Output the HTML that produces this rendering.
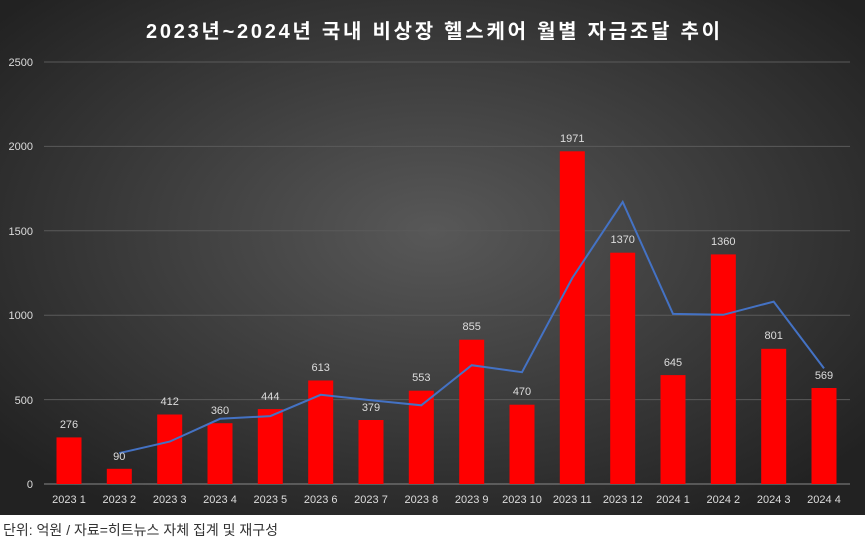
<!DOCTYPE html>
<html><head><meta charset="utf-8"><style>
html,body{margin:0;padding:0;width:865px;height:541px;background:#fff;overflow:hidden}
svg{display:block}
</style></head><body>
<svg width="865" height="541" xmlns="http://www.w3.org/2000/svg" font-family="'Liberation Sans','Noto Sans CJK KR',sans-serif">
<defs>
<radialGradient id="bg" cx="0.5" cy="0.45" r="0.65">
<stop offset="0" stop-color="#585858"/>
<stop offset="1" stop-color="#222"/>
</radialGradient>
</defs>
<rect x="0" y="0" width="865" height="515" fill="url(#bg)"/>
<text x="146" y="38" font-size="20" font-weight="bold" fill="#fff" textLength="574" lengthAdjust="spacing">2023년~2024년 국내 비상장 헬스케어 월별 자금조달 추이</text>
<g stroke="#5a5a5a" stroke-width="1">
<line x1="44" x2="850" y1="62" y2="62"/>
<line x1="44" x2="850" y1="146.4" y2="146.4"/>
<line x1="44" x2="850" y1="230.8" y2="230.8"/>
<line x1="44" x2="850" y1="315.2" y2="315.2"/>
<line x1="44" x2="850" y1="399.6" y2="399.6"/>
</g>
<line x1="44" x2="850" y1="484" y2="484" stroke="#888" stroke-width="1"/>
<g font-size="11" fill="#ddd" text-anchor="end">
<text x="33" y="66">2500</text><text x="33" y="150">2000</text><text x="33" y="235">1500</text>
<text x="33" y="319">1000</text><text x="33" y="404">500</text><text x="33" y="488">0</text>
</g>
<g fill="#ff0000">
<rect x="56.5" y="437.4" width="25" height="46.6"/>
<rect x="106.8" y="468.8" width="25" height="15.2"/>
<rect x="157.2" y="414.5" width="25" height="69.5"/>
<rect x="207.5" y="423.2" width="25" height="60.8"/>
<rect x="257.8" y="409.1" width="25" height="74.9"/>
<rect x="308.2" y="380.5" width="25" height="103.5"/>
<rect x="358.5" y="420" width="25" height="64"/>
<rect x="408.8" y="390.7" width="25" height="93.3"/>
<rect x="459.2" y="339.7" width="25" height="144.3"/>
<rect x="509.5" y="404.7" width="25" height="79.3"/>
<rect x="559.8" y="151.3" width="25" height="332.7"/>
<rect x="610.2" y="252.7" width="25" height="231.3"/>
<rect x="660.5" y="375.1" width="25" height="108.9"/>
<rect x="710.8" y="254.4" width="25" height="229.6"/>
<rect x="761.2" y="348.8" width="25" height="135.2"/>
<rect x="811.5" y="388" width="25" height="96"/>
</g>
<polyline fill="none" stroke="#4472c4" stroke-width="2" points="119.3,453.1 169.7,441.6 220,418.8 270.3,416.1 320.7,394.8 371,400.3 421.3,405.3 471.7,365.2 522,372.2 572.3,278 622.7,202 673,313.9 723.3,314.8 773.7,301.6 824,368.4"/>
<g font-size="11" fill="#ddd" text-anchor="middle">
<text x="69" y="428">276</text><text x="119.3" y="460">90</text><text x="169.7" y="405">412</text>
<text x="220" y="414">360</text><text x="270.3" y="400">444</text><text x="320.7" y="371">613</text>
<text x="371" y="411">379</text><text x="421.3" y="381">553</text><text x="471.7" y="330">855</text>
<text x="522" y="395">470</text><text x="572.3" y="142">1971</text><text x="622.7" y="243">1370</text>
<text x="673" y="366">645</text><text x="723.3" y="245">1360</text><text x="773.7" y="339">801</text>
<text x="824" y="379">569</text>
</g>
<g font-size="11" fill="#ddd" text-anchor="middle">
<text x="69" y="503">2023 1</text><text x="119.3" y="503">2023 2</text><text x="169.7" y="503">2023 3</text>
<text x="220" y="503">2023 4</text><text x="270.3" y="503">2023 5</text><text x="320.7" y="503">2023 6</text>
<text x="371" y="503">2023 7</text><text x="421.3" y="503">2023 8</text><text x="471.7" y="503">2023 9</text>
<text x="522" y="503">2023 10</text><text x="572.3" y="503">2023 11</text><text x="622.7" y="503">2023 12</text>
<text x="673" y="503">2024 1</text><text x="723.3" y="503">2024 2</text><text x="773.7" y="503">2024 3</text>
<text x="824" y="503">2024 4</text>
</g>
<text x="3" y="535" font-size="14" fill="#333">단위: 억원 / 자료=히트뉴스 자체 집계 및 재구성</text>
</svg>
</body></html>
